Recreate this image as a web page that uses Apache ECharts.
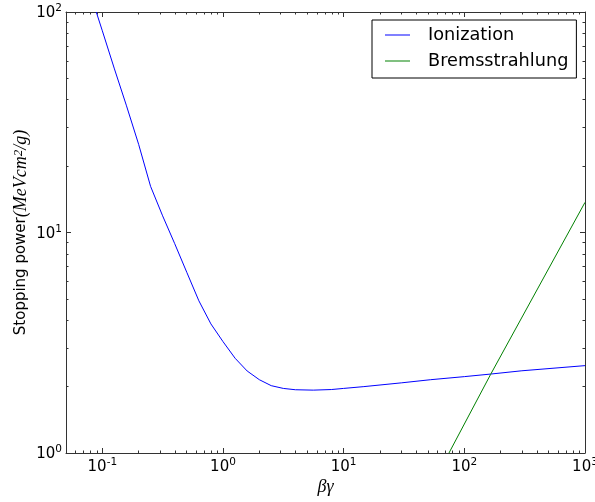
<!DOCTYPE html>
<html>
<head>
<meta charset="utf-8">
<script src="https://cdn.jsdelivr.net/npm/echarts@6/dist/echarts.min.js"></script>
<style>
  html, body { margin: 0; padding: 0; background: #fff; }
  #chart { width: 595px; height: 502px; }
</style>
</head>
<body>
<div id="chart"></div>
<script>
// Stopping power of a charged particle versus beta*gamma (log-log)
const ionX = [0.0891, 0.1, 0.126, 0.158, 0.2, 0.251, 0.316, 0.398, 0.501, 0.631, 0.794, 1.0, 1.26, 1.585, 2.0, 2.51, 3.16, 3.98, 5.6, 7.9, 10, 14.7, 30, 52.6, 100, 165, 300, 1000];
const ionY = [100, 82.2, 55.2, 37.8, 25.1, 16.2, 11.9, 8.9, 6.6, 4.9, 3.85, 3.20, 2.69, 2.355, 2.15, 2.02, 1.963, 1.936, 1.928, 1.94, 1.963, 2.0, 2.08, 2.15, 2.22, 2.28, 2.36, 2.49];
const bremX = [74.6, 165, 1000];
const bremY = [1.0, 2.27, 13.7];

const seriesNames = ['Ionization', 'Bremsstrahlung'];

// Decade ticks (labelled) and the in-between minor ticks
const xMajor = [0.1, 1, 10, 100, 1000];
const yMajor = [1, 10, 100];
const xRange = [0.05, 1000];
const yRange = [1, 100];

function minorTicks(lo, hi) {
  const out = [];
  for (let d = Math.floor(Math.log10(lo)); d < Math.ceil(Math.log10(hi)); d++) {
    for (let m = 2; m <= 9; m++) {
      const v = m * Math.pow(10, d);
      if (v > lo && v < hi) out.push(+v.toPrecision(6));
    }
  }
  return out;
}
const xMinor = minorTicks(xRange[0], xRange[1]);
const yMinor = minorTicks(yRange[0], yRange[1]);

const zip = (xs, ys) => xs.map((x, i) => [x, ys[i]]);

const frameColor = '#333';
const labelFont = 'DejaVu Sans';
const mathFont = 'Liberation Serif';

const supRich = {
  b: { fontFamily: labelFont, fontSize: 15, color: '#000', lineHeight: 18, verticalAlign: 'bottom' },
  s: { fontFamily: labelFont, fontSize: 10.5, color: '#000', lineHeight: 18, verticalAlign: 'top' }
};
function powLabel(v) {
  const e = Math.round(Math.log10(v));
  return '{b|10}{s|' + e + '}';
}

function logAxis(range, position, opts) {
  return Object.assign({
    type: 'log',
    logBase: 10,
    min: range[0],
    max: range[1],
    position: position,
    splitLine: { show: false },
    axisLine: { show: false },
    axisLabel: { show: false },
    axisTick: { show: false }
  }, opts);
}

function majorAxis(range, position, ticks, withLabels, margin) {
  return logAxis(range, position, {
    axisLine: { show: true, lineStyle: { color: frameColor, width: 1 } },
    axisTick: { show: true, inside: true, length: 5, customValues: ticks, lineStyle: { color: frameColor, width: 1 } },
    axisLabel: withLabels
      ? { show: true, customValues: ticks, formatter: powLabel, rich: supRich, margin: margin }
      : { show: false }
  });
}
function minorAxis(range, position, ticks) {
  return logAxis(range, position, {
    axisTick: { show: true, inside: true, length: 2.5, customValues: ticks, lineStyle: { color: frameColor, width: 1 } }
  });
}

const xAxes = [
  Object.assign(majorAxis(xRange, 'bottom', xMajor, true, 4), {
    name: 'βγ',
    nameLocation: 'middle',
    nameGap: 25,
    nameMoveOverlap: false,
    nameTextStyle: { fontFamily: mathFont, fontStyle: 'italic', fontSize: 18, color: '#000', verticalAlign: 'top' }
  }),
  minorAxis(xRange, 'bottom', xMinor),
  majorAxis(xRange, 'top', xMajor, false),
  minorAxis(xRange, 'top', xMinor)
];
const yAxes = [
  Object.assign(majorAxis(yRange, 'left', yMajor, true, 4), {
    name: 'Stopping power{m|(MeVcm}{sp|2}{m|/g)}',
    nameLocation: 'middle',
    nameGap: 36,
    nameMoveOverlap: false,
    nameTextStyle: {
      fontFamily: labelFont, fontSize: 15, color: '#000', lineHeight: 18,
      rich: {
        m: { fontFamily: mathFont, fontStyle: 'italic', fontSize: 18, color: '#000', lineHeight: 18, verticalAlign: 'bottom' },
        sp: { fontFamily: mathFont, fontStyle: 'italic', fontSize: 13, color: '#000', lineHeight: 18, verticalAlign: 'top' }
      }
    }
  }),
  minorAxis(yRange, 'left', yMinor),
  majorAxis(yRange, 'right', yMajor, false),
  minorAxis(yRange, 'right', yMinor)
];

const chart = echarts.init(document.getElementById('chart'), null, { renderer: 'canvas' });
chart.setOption({
  animation: false,
  backgroundColor: '#fff',
  grid: { left: 66, right: 10, top: 12, bottom: 49, containLabel: false, outerBoundsMode: 'none' },
  xAxis: xAxes,
  yAxis: yAxes,
  legend: {
    left: 372,
    top: 20,
    orient: 'vertical',
    data: seriesNames,
    icon: 'rect',
    itemWidth: 25,
    itemHeight: 1,
    itemGap: 8,
    padding: [6, 8, 8, 13],
    borderColor: '#000',
    borderWidth: 1,
    borderRadius: 0,
    backgroundColor: '#fff',
    selectedMode: false,
    textStyle: { fontFamily: labelFont, fontSize: 17.7, color: '#000', lineHeight: 18, padding: [0, 0, 0, 13] }
  },
  series: [
    {
      name: seriesNames[0],
      type: 'line',
      xAxisIndex: 0,
      yAxisIndex: 0,
      data: zip(ionX, ionY),
      showSymbol: false,
      symbol: 'none',
      smooth: false,
      clip: true,
      color: '#0000ff',
      lineStyle: { color: '#0000ff', width: 1 }
    },
    {
      name: seriesNames[1],
      type: 'line',
      xAxisIndex: 0,
      yAxisIndex: 0,
      data: zip(bremX, bremY),
      showSymbol: false,
      symbol: 'none',
      clip: true,
      color: '#008000',
      lineStyle: { color: '#008000', width: 1 }
    }
  ]
});
</script>
</body>
</html>
